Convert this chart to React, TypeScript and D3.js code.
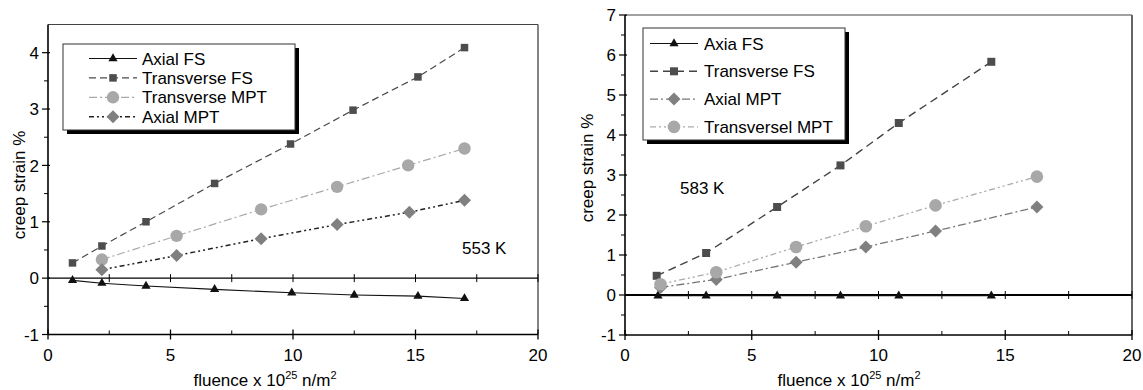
import React from 'react';
import * as d3 from 'd3';

type Pt = [number, number];

// ---------- data ----------
const xTicks = [0, 5, 10, 15, 20];
const leftYTicks = [-1, 0, 1, 2, 3, 4];
const rightYTicks = [-1, 0, 1, 2, 3, 4, 5, 6, 7];

// Left panel (553 K)
const leftAxialFS: Pt[] = [[1.0, -0.04], [2.2, -0.09], [4.0, -0.14], [6.8, -0.2], [9.95, -0.26], [12.5, -0.3], [15.1, -0.32], [17.0, -0.36]];
const leftTransverseFS: Pt[] = [[1.0, 0.27], [2.2, 0.57], [4.0, 1.0], [6.8, 1.68], [9.9, 2.38], [12.45, 2.98], [15.1, 3.57], [17.0, 4.09]];
const leftTransverseMPT: Pt[] = [[2.2, 0.33], [5.25, 0.75], [8.7, 1.22], [11.8, 1.62], [14.7, 2.0], [17.0, 2.3]];
const leftAxialMPT: Pt[] = [[2.2, 0.15], [5.25, 0.4], [8.7, 0.7], [11.8, 0.95], [14.75, 1.17], [17.0, 1.38]];

// Right panel (583 K)
const rightAxiaFS: Pt[] = [[1.3, -0.02], [3.2, -0.02], [6.0, -0.02], [8.5, -0.02], [10.8, -0.02], [14.45, -0.02]];
const rightTransverseFS: Pt[] = [[1.25, 0.48], [3.2, 1.05], [6.0, 2.2], [8.5, 3.24], [10.8, 4.3], [14.45, 5.83]];
const rightAxialMPT: Pt[] = [[1.4, 0.19], [3.6, 0.39], [6.75, 0.82], [9.5, 1.2], [12.25, 1.6], [16.25, 2.2]];
const rightTransverselMPT: Pt[] = [[1.4, 0.27], [3.6, 0.57], [6.75, 1.2], [9.5, 1.72], [12.25, 2.24], [16.25, 2.96]];

const leftNames = ['Axial FS', 'Transverse FS', 'Transverse MPT', 'Axial MPT'];
const rightNames = ['Axia FS', 'Transverse FS', 'Axial MPT', 'Transversel MPT'];

const FONT = '"Liberation Sans", Arial, Helvetica, sans-serif';

type MarkerType = 'triangle' | 'square' | 'circle' | 'diamond';
interface Series {
  name: string;
  data: Pt[];
  color: string;
  dash: string;
  width: number;
  marker: MarkerType;
  markerColor: string;
  markerSize: number;
}

function markerPath(type: MarkerType, size: number): string {
  if (type === 'diamond') {
    const h = size;
    return `M0,${-h}L${h},0L0,${h}L${-h},0Z`;
  }
  const t = { triangle: d3.symbolTriangle, square: d3.symbolSquare, circle: d3.symbolCircle }[type];
  const area = type === 'triangle' ? size * size * 0.45 : type === 'square' ? size * size : Math.PI * size * size;
  return d3.symbol().type(t as any).size(area)() as string;
}

function Marker({ type, x, y, color, size }: { type: MarkerType; x: number; y: number; color: string; size: number }) {
  return <path d={markerPath(type, size)} transform={`translate(${x},${y})`} fill={color} />;
}

interface PanelProps {
  px0: number; px1: number; pyTop: number; pyBot: number;
  yDomain: [number, number]; yTicks: number[];
  series: Series[];
  legendBox: { x: number; y: number; w: number; h: number };
  legendRow0: number; legendRowStep: number; legendLineX0: number; legendLineX1: number; legendTextX: number;
  annotation: { text: string; x: number; y: number };
  yTitle: { x: number; y: number };
  xTitle: { x: number; y: number };
  rightFrameColor: string; rightFrameWidth: number; zeroWidth: number;
}

function Panel(p: PanelProps) {
  const x = d3.scaleLinear().domain([0, 20]).range([p.px0, p.px1]);
  const y = d3.scaleLinear().domain(p.yDomain).range([p.pyBot, p.pyTop]);
  const yMin = p.yDomain[0];
  const yMax = p.yDomain[1];
  const minorY: number[] = [];
  for (let v = yMin + 0.5; v < yMax; v += 1) minorY.push(v);
  const minorX = [2.5, 7.5, 12.5, 17.5];
  const zeroTicks = [2.5, 5, 7.5, 10, 12.5, 15, 17.5, 20];
  const line = d3.line<Pt>().x(d => x(d[0])).y(d => y(d[1]));
  const fs = 17;

  return (
    <g fontFamily={FONT}>
      {/* frame top & right */}
      <line x1={x(0)} x2={x(20)} y1={y(yMax)} y2={y(yMax)} stroke="#444" strokeWidth={1.2} />
      <line x1={x(20)} x2={x(20)} y1={y(yMax)} y2={y(yMin)} stroke={p.rightFrameColor} strokeWidth={p.rightFrameWidth} />
      {/* zero line */}
      <line x1={x(0)} x2={x(20)} y1={y(0)} y2={y(0)} stroke="#000" strokeWidth={p.zeroWidth} />
      {zeroTicks.map(t => (
        <line key={'z' + t} x1={x(t)} x2={x(t)} y1={y(0) - 4} y2={y(0) + 4} stroke="#000" strokeWidth={1} />
      ))}
      {/* bottom axis */}
      <line x1={x(0)} x2={x(20)} y1={y(yMin)} y2={y(yMin)} stroke="#000" strokeWidth={1.6} />
      {xTicks.map(t => (
        <g key={'xt' + t}>
          <line x1={x(t)} x2={x(t)} y1={y(yMin) - 5} y2={y(yMin) + 5} stroke="#000" strokeWidth={1.3} />
          <text x={x(t)} y={y(yMin) + 26} textAnchor="middle" fontSize={fs}>{t}</text>
        </g>
      ))}
      {minorX.map(t => (
        <line key={'mx' + t} x1={x(t)} x2={x(t)} y1={y(yMin) - 4} y2={y(yMin)} stroke="#000" strokeWidth={1} />
      ))}
      {/* left axis */}
      <line x1={x(0)} x2={x(0)} y1={y(yMax)} y2={y(yMin)} stroke="#000" strokeWidth={1.6} />
      {p.yTicks.map(t => (
        <g key={'yt' + t}>
          <line x1={x(0) - 6} x2={x(0) + 2} y1={y(t)} y2={y(t)} stroke="#000" strokeWidth={1.2} />
          <text x={x(0) - 9} y={y(t)} dy="0.36em" textAnchor="end" fontSize={fs}>{t}</text>
        </g>
      ))}
      {minorY.map(t => (
        <line key={'my' + t} x1={x(0) - 4} x2={x(0)} y1={y(t)} y2={y(t)} stroke="#000" strokeWidth={1} />
      ))}
      {/* series */}
      {p.series.map(s => (
        <g key={s.name}>
          <path d={line(s.data) as string} fill="none" stroke={s.color} strokeWidth={s.width} strokeDasharray={s.dash} />
          {s.data.map((d, i) => (
            <Marker key={i} type={s.marker} x={x(d[0])} y={y(d[1])} color={s.markerColor} size={s.markerSize} />
          ))}
        </g>
      ))}
      {/* legend */}
      <rect x={p.legendBox.x + 4} y={p.legendBox.y + 4} width={p.legendBox.w} height={p.legendBox.h} fill="#000" />
      <rect x={p.legendBox.x} y={p.legendBox.y} width={p.legendBox.w} height={p.legendBox.h} fill="#fff" stroke="#333" strokeWidth={1} />
      {p.series.map((s, i) => {
        const ry = p.legendRow0 + i * p.legendRowStep;
        const mx = (p.legendLineX0 + p.legendLineX1) / 2;
        return (
          <g key={'lg' + s.name}>
            <line x1={p.legendLineX0} x2={p.legendLineX1} y1={ry} y2={ry} stroke={s.color} strokeWidth={s.width} strokeDasharray={s.dash} />
            <Marker type={s.marker} x={mx} y={ry} color={s.markerColor} size={s.markerSize} />
            <text x={p.legendTextX} y={ry} dy="0.36em" fontSize={fs}>{s.name}</text>
          </g>
        );
      })}
      {/* annotation */}
      <text x={p.annotation.x} y={p.annotation.y} fontSize={fs}>{p.annotation.text}</text>
      {/* axis titles */}
      <text transform={`translate(${p.yTitle.x},${p.yTitle.y}) rotate(-90)`} textAnchor="middle" fontSize={fs}>creep strain %</text>
      <text x={p.xTitle.x} y={p.xTitle.y} textAnchor="middle" fontSize={fs}>
        fluence x 10<tspan fontSize={11} dy={-7}>25</tspan><tspan dy={7}> n/m</tspan><tspan fontSize={11} dy={-7}>2</tspan>
      </text>
    </g>
  );
}

export default function App() {
  const leftSeries: Series[] = [
    { name: leftNames[0], data: leftAxialFS, color: '#111', dash: '', width: 1.1, marker: 'triangle', markerColor: '#111', markerSize: 9 },
    { name: leftNames[1], data: leftTransverseFS, color: '#4a4a4a', dash: '7,4', width: 1.2, marker: 'square', markerColor: '#4d4d4d', markerSize: 7.5 },
    { name: leftNames[2], data: leftTransverseMPT, color: '#a8a8a8', dash: '8,3,2,3', width: 1.2, marker: 'circle', markerColor: '#a8a8a8', markerSize: 6.2 },
    { name: leftNames[3], data: leftAxialMPT, color: '#222', dash: '5,3,2,3,2,3', width: 1.5, marker: 'diamond', markerColor: '#808080', markerSize: 6.5 },
  ];
  const rightSeries: Series[] = [
    { name: rightNames[0], data: rightAxiaFS, color: '#111', dash: '', width: 1.1, marker: 'triangle', markerColor: '#111', markerSize: 9 },
    { name: rightNames[1], data: rightTransverseFS, color: '#444', dash: '8,5', width: 1.4, marker: 'square', markerColor: '#4d4d4d', markerSize: 8 },
    { name: rightNames[2], data: rightAxialMPT, color: '#777', dash: '8,3,2,3', width: 1.3, marker: 'diamond', markerColor: '#808080', markerSize: 6.5 },
    { name: rightNames[3], data: rightTransverselMPT, color: '#aaa', dash: '6,3,2,3,2,3', width: 1.3, marker: 'circle', markerColor: '#a8a8a8', markerSize: 6.3 },
  ];

  return (
    <svg width={1143} height={390} style={{ position: 'absolute', left: 0, top: 0, background: '#fff' }}>
      <rect width={1143} height={390} fill="#fff" />
      <Panel
        px0={48} px1={538} pyTop={24.5} pyBot={334.5}
        yDomain={[-1, 4.5]} yTicks={leftYTicks}
        series={leftSeries}
        legendBox={{ x: 63, y: 44, w: 232, h: 86 }}
        legendRow0={58.5} legendRowStep={19.4} legendLineX0={89} legendLineX1={137} legendTextX={142}
        annotation={{ text: '553 K', x: 462, y: 254 }}
        yTitle={{ x: 25, y: 185 }}
        xTitle={{ x: 265, y: 386 }}
        rightFrameColor="#333" rightFrameWidth={1.2} zeroWidth={1.1}
      />
      <Panel
        px0={625} px1={1132} pyTop={15} pyBot={335}
        yDomain={[-1, 7]} yTicks={rightYTicks}
        series={rightSeries}
        legendBox={{ x: 643, y: 28, w: 202, h: 112 }}
        legendRow0={43.5} legendRowStep={27.8} legendLineX0={650} legendLineX1={698} legendTextX={704}
        annotation={{ text: '583 K', x: 680, y: 194 }}
        yTitle={{ x: 593, y: 168 }}
        xTitle={{ x: 849, y: 386 }}
        rightFrameColor="#666" rightFrameWidth={2} zeroWidth={2}
      />
    </svg>
  );
}
